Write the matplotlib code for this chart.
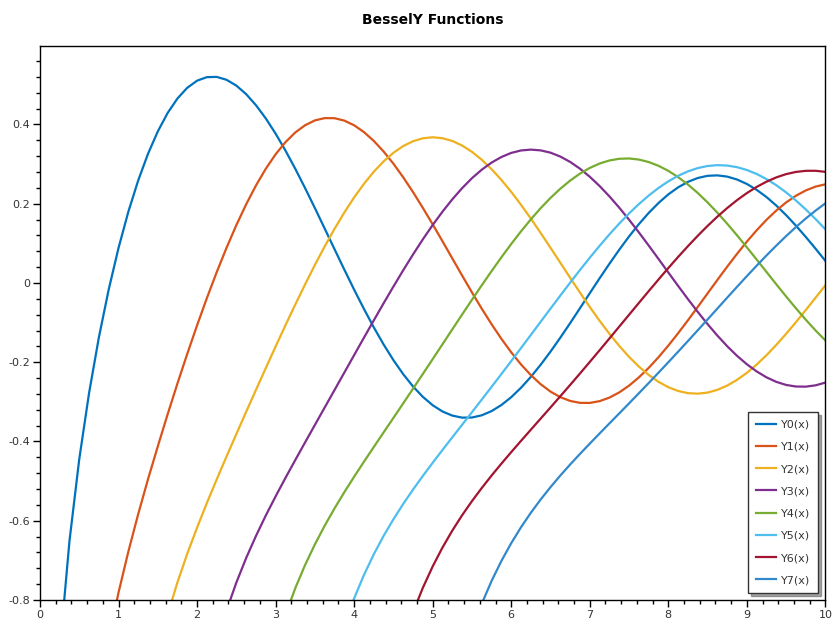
import matplotlib
matplotlib.use("Agg")
import matplotlib.pyplot as plt
from matplotlib.ticker import MultipleLocator, FuncFormatter

# x sample points, step 0.125
x_all = [0.25, 0.375, 0.5, 0.625, 0.75, 0.875, 1.0, 1.125,
         1.25, 1.375, 1.5, 1.625, 1.75, 1.875, 2.0, 2.125,
         2.25, 2.375, 2.5, 2.625, 2.75, 2.875, 3.0, 3.125,
         3.25, 3.375, 3.5, 3.625, 3.75, 3.875, 4.0, 4.125,
         4.25, 4.375, 4.5, 4.625, 4.75, 4.875, 5.0, 5.125,
         5.25, 5.375, 5.5, 5.625, 5.75, 5.875, 6.0, 6.125,
         6.25, 6.375, 6.5, 6.625, 6.75, 6.875, 7.0, 7.125,
         7.25, 7.375, 7.5, 7.625, 7.75, 7.875, 8.0, 8.125,
         8.25, 8.375, 8.5, 8.625, 8.75, 8.875, 9.0, 9.125,
         9.25, 9.375, 9.5, 9.625, 9.75, 9.875, 10.0]

# each series ends at x = 10
y0 = [-0.9316, -0.6518, -0.4445, -0.2776, -0.1372, -0.0165, 0.0883, 0.1797,
      0.2584, 0.3258, 0.3824, 0.4289, 0.4655, 0.4925, 0.5104, 0.5194,
      0.5200, 0.5127, 0.4981, 0.4765, 0.4486, 0.4152, 0.3769, 0.3343,
      0.2883, 0.2396, 0.1890, 0.1373, 0.0853, 0.0337, -0.0169, -0.0656,
      -0.1119, -0.1551, -0.1947, -0.2302, -0.2612, -0.2874, -0.3085, -0.3243,
      -0.3347, -0.3398, -0.3395, -0.3339, -0.3233, -0.3079, -0.2882, -0.2643,
      -0.2369, -0.2063, -0.1732, -0.1380, -0.1014, -0.0638, -0.0259, 0.0117,
      0.0484, 0.0838, 0.1173, 0.1484, 0.1767, 0.2018, 0.2235, 0.2413,
      0.2552, 0.2649, 0.2704, 0.2715, 0.2684, 0.2611, 0.2499, 0.2350,
      0.2168, 0.1954, 0.1712, 0.1447, 0.1163, 0.0865, 0.0557]
y1 = [-1.0376, -0.8979, -0.7812, -0.6779, -0.5836, -0.4955, -0.4123, -0.3315,
      -0.2538, -0.1789, -0.1070, -0.0381, 0.0272, 0.0887, 0.1459, 0.1985,
      0.2460, 0.2882, 0.3247, 0.3552, 0.3797, 0.3980, 0.4102, 0.4160,
      0.4158, 0.4097, 0.3979, 0.3807, 0.3585, 0.3318, 0.3010, 0.2666,
      0.2292, 0.1894, 0.1479, 0.1052, 0.0619, 0.0187, -0.0238, -0.0649,
      -0.1041, -0.1410, -0.1750, -0.2056, -0.2325, -0.2554, -0.2741, -0.2881,
      -0.2976, -0.3025, -0.3027, -0.2982, -0.2893, -0.2762, -0.2591, -0.2383,
      -0.2143, -0.1874, -0.1581, -0.1268, -0.0941, -0.0604, -0.0263, 0.0077,
      0.0412, 0.0735, 0.1043, 0.1330, 0.1593, 0.1828, 0.2032, 0.2201,
      0.2335, 0.2432, 0.2490]
y2 = [-0.9322, -0.8370, -0.7556, -0.6833, -0.6174, -0.5551, -0.4958, -0.4379,
      -0.3813, -0.3252, -0.2697, -0.2147, -0.1604, -0.1069, -0.0546, -0.0037,
      0.0454, 0.0922, 0.1365, 0.1779, 0.2159, 0.2502, 0.2806, 0.3068,
      0.3285, 0.3455, 0.3577, 0.3651, 0.3677, 0.3653, 0.3583, 0.3468,
      0.3309, 0.3109, 0.2871, 0.2600, 0.2299, 0.1972, 0.1625, 0.1262,
      0.0889, 0.0511, 0.0132, -0.0242, -0.0605, -0.0953, -0.1282, -0.1587,
      -0.1864, -0.2109, -0.2320, -0.2494, -0.2630, -0.2725, -0.2780, -0.2793,
      -0.2766, -0.2697, -0.2589, -0.2445, -0.2268, -0.2059, -0.1823, -0.1563,
      -0.1284, -0.0989, -0.0684, -0.0372, -0.0059]
y3 = [-0.9087, -0.8265, -0.7561, -0.6940, -0.6383, -0.5868, -0.5385, -0.4920,
      -0.4469, -0.4024, -0.3583, -0.3142, -0.2702, -0.2261, -0.1820, -0.1380,
      -0.0944, -0.0513, -0.0090, 0.0322, 0.0720, 0.1102, 0.1463, 0.1800,
      0.2111, 0.2393, 0.2644, 0.2859, 0.3038, 0.3179, 0.3282, 0.3344,
      0.3365, 0.3346, 0.3288, 0.3190, 0.3055, 0.2884, 0.2681, 0.2447,
      0.2186, 0.1901, 0.1597, 0.1277, 0.0946, 0.0607, 0.0265, -0.0074,
      -0.0407, -0.0730, -0.1038, -0.1328, -0.1596, -0.1838, -0.2051, -0.2232,
      -0.2381, -0.2495, -0.2573, -0.2613, -0.2616, -0.2583, -0.2514]
y4 = [-0.9167, -0.8379, -0.7705, -0.7117, -0.6597, -0.6124, -0.5689, -0.5279,
      -0.4889, -0.4510, -0.4139, -0.3771, -0.3405, -0.3037, -0.2667, -0.2295,
      -0.1921, -0.1546, -0.1170, -0.0795, -0.0424, -0.0058, 0.0300, 0.0648,
      0.0984, 0.1304, 0.1606, 0.1888, 0.2146, 0.2378, 0.2583, 0.2759,
      0.2903, 0.3014, 0.3091, 0.3134, 0.3142, 0.3114, 0.3052, 0.2957,
      0.2830, 0.2671, 0.2484, 0.2271, 0.2033, 0.1773, 0.1495, 0.1203,
      0.0900, 0.0591, 0.0279, -0.0033, -0.0340, -0.0639, -0.0926, -0.1198,
      -0.1450]
y5 = [-0.9434, -0.8639, -0.7959, -0.7367, -0.6847, -0.6382, -0.5963, -0.5575,
      -0.5213, -0.4868, -0.4537, -0.4213, -0.3894, -0.3577, -0.3261, -0.2942,
      -0.2621, -0.2297, -0.1971, -0.1641, -0.1310, -0.0978, -0.0647, -0.0318,
      0.0007, 0.0326, 0.0637, 0.0937, 0.1225, 0.1498, 0.1754, 0.1990,
      0.2205, 0.2397, 0.2564, 0.2704, 0.2816, 0.2899, 0.2952, 0.2973,
      0.2963, 0.2922, 0.2851, 0.2751, 0.2622, 0.2467, 0.2286, 0.2081,
      0.1856, 0.1613, 0.1354]
y6 = [-0.9847, -0.9018, -0.8307, -0.7691, -0.7152, -0.6674, -0.6248, -0.5860,
      -0.5505, -0.5173, -0.4859, -0.4559, -0.4268, -0.3983, -0.3702, -0.3422,
      -0.3141, -0.2858, -0.2573, -0.2285, -0.1993, -0.1698, -0.1401, -0.1102,
      -0.0803, -0.0504, -0.0207, 0.0087, 0.0376, 0.0657, 0.0929, 0.1191,
      0.1440, 0.1674, 0.1891, 0.2090, 0.2268, 0.2424, 0.2556, 0.2664,
      0.2747, 0.2802, 0.2830, 0.2831, 0.2804]
y7 = [-0.8750, -0.8092, -0.7518, -0.7013, -0.6566, -0.6163, -0.5798, -0.5463,
      -0.5152, -0.4859, -0.4581, -0.4314, -0.4054, -0.3798, -0.3544, -0.3292,
      -0.3039, -0.2783, -0.2525, -0.2264, -0.2001, -0.1734, -0.1465, -0.1193,
      -0.0920, -0.0645, -0.0370, -0.0097, 0.0172, 0.0436, 0.0694, 0.0943,
      0.1183, 0.1411, 0.1626, 0.1826, 0.2010]

series = [y0, y1, y2, y3, y4, y5, y6, y7]
labels = ["Y0(x)", "Y1(x)", "Y2(x)", "Y3(x)", "Y4(x)", "Y5(x)", "Y6(x)", "Y7(x)"]
colors = ["#0072BD", "#D95319", "#EDB120", "#7E2F8E", "#77AC30", "#4DBEEE", "#A2142F", "#3189CC"]

fig = plt.figure(figsize=(8.4, 6.3), dpi=100)
ax = fig.add_axes([0.0476, 0.0476, 0.935, 0.8794])

for ys, lab, c in zip(series, labels, colors):
    xs = x_all[len(x_all) - len(ys):]
    ax.plot(xs, ys, color=c, lw=1.6, label=lab)

ax.set_xlim(0, 10)
ax.set_ylim(-0.8, 0.598)
ax.xaxis.set_major_locator(MultipleLocator(1))
ax.xaxis.set_minor_locator(MultipleLocator(0.2))
ax.yaxis.set_major_locator(MultipleLocator(0.2))
ax.yaxis.set_minor_locator(MultipleLocator(0.04))
ax.yaxis.set_major_formatter(FuncFormatter(lambda v, p: "0" if abs(v) < 1e-9 else "%g" % round(v, 1)))
ax.tick_params(which="major", length=5, width=1, labelsize=8, labelcolor="#333333", pad=2)
ax.tick_params(which="minor", length=3, width=1)
for s in ax.spines.values():
    s.set_linewidth(1)

ax.set_title("BesselY Functions", fontsize=10, fontweight="bold", pad=16)

leg = ax.legend(loc="lower right", fontsize=8, frameon=True, fancybox=False, shadow=True,
                labelspacing=1.1, handlelength=1.8, borderpad=0.7, handletextpad=0.5,
                borderaxespad=0, bbox_to_anchor=(0.991, 0.0126))
leg.get_frame().set_edgecolor("#333333")
leg.get_frame().set_linewidth(1)
for t in leg.get_texts():
    t.set_color("#333333")

fig.savefig("out.png", dpi=100)
